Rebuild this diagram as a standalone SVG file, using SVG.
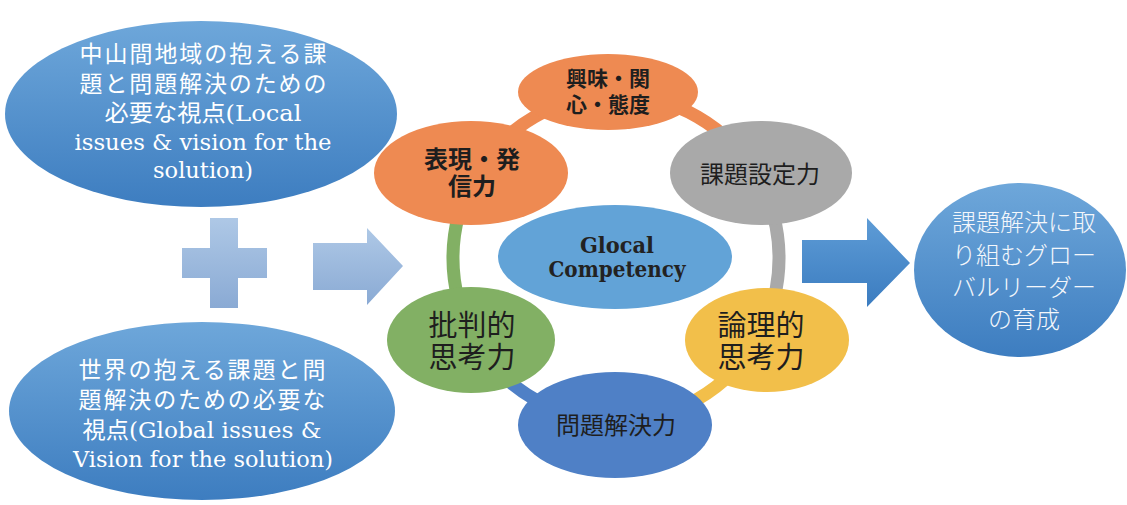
<svg xmlns="http://www.w3.org/2000/svg" width="1127" height="505" viewBox="0 0 1127 505">
<defs>
<linearGradient id="gBlue" x1="0" y1="0" x2="0" y2="1">
<stop offset="0" stop-color="#6ea7da"/>
<stop offset="1" stop-color="#3d7dc0"/>
</linearGradient>
<linearGradient id="gLight" x1="0" y1="0" x2="0" y2="1">
<stop offset="0" stop-color="#aec8e6"/>
<stop offset="1" stop-color="#8aaad4"/>
</linearGradient>
<linearGradient id="gArrow" x1="0" y1="0" x2="0" y2="1">
<stop offset="0" stop-color="#5e9cd6"/>
<stop offset="1" stop-color="#3b7cc0"/>
</linearGradient>
<style>
.wt{font-family:"DejaVu Serif","Noto Sans CJK JP",serif;font-size:23px;fill:#ffffff;text-anchor:middle}
.rt{font-family:"Noto Sans CJK JP",sans-serif;font-size:24px;font-weight:300;fill:#f4f7fb;text-anchor:middle}
.nt{font-family:"Noto Sans CJK JP",sans-serif;fill:#1e1e1e;text-anchor:middle}
.gt{font-family:"DejaVu Serif",serif;font-size:23px;font-weight:bold;fill:#222;text-anchor:middle}
.ring{fill:none;stroke-width:13}
</style>
</defs>

<g id="local-issues">
<ellipse cx="201" cy="114" rx="196" ry="93" fill="url(#gBlue)"/>
<text class="wt" x="203" y="62" textLength="247" lengthAdjust="spacing">中山間地域の抱える課</text>
<text class="wt" x="203" y="92" textLength="247" lengthAdjust="spacing">題と問題解決のための</text>
<text class="wt" x="203" y="121" textLength="197" lengthAdjust="spacingAndGlyphs">必要な視点(Local</text>
<text class="wt" x="203" y="150" textLength="257" lengthAdjust="spacingAndGlyphs">issues &amp; vision for the</text>
<text class="wt" x="203" y="178" textLength="100" lengthAdjust="spacingAndGlyphs">solution)</text>
</g>

<g id="global-issues">
<ellipse cx="202" cy="411" rx="193" ry="89" fill="url(#gBlue)"/>
<text class="wt" x="202" y="378" textLength="247" lengthAdjust="spacing">世界の抱える課題と問</text>
<text class="wt" x="202" y="408" textLength="247" lengthAdjust="spacing">題解決のための必要な</text>
<text class="wt" x="202" y="438" textLength="239" lengthAdjust="spacingAndGlyphs">視点(Global issues &amp;</text>
<text class="wt" x="203" y="467" textLength="260" lengthAdjust="spacingAndGlyphs">Vision for the solution)</text>
</g>

<g id="plus">
<path d="M210,218 H238 V248 H267 V278 H238 V308 H210 V278 H182 V248 H210 Z" fill="url(#gLight)"/>
</g>

<g id="arrow-in">
<path d="M313,243 H367 V228 L403,266 L367,305 V290 H313 Z" fill="url(#gLight)"/>
</g>

<g id="connectors">
<path class="ring" stroke="#ee8a52" d="M616,95 A163,163 0 0 1 757.2,176.5"/>
<path class="ring" stroke="#a9a9a9" d="M757.2,176.5 A163,163 0 0 1 757.2,339.5"/>
<path class="ring" stroke="#f2bf4a" d="M757.2,339.5 A163,163 0 0 1 616,421"/>
<path class="ring" stroke="#4f80c6" d="M616,421 A163,163 0 0 1 474.8,339.5"/>
<path class="ring" stroke="#82b064" d="M474.8,339.5 A163,163 0 0 1 474.8,176.5"/>
<path class="ring" stroke="#ee8a52" d="M474.8,176.5 A163,163 0 0 1 616,95"/>
</g>

<g id="interest">
<ellipse cx="608" cy="92" rx="90" ry="38" fill="#ee8a52"/>
<text class="nt" x="608" y="86" font-size="21" font-weight="bold">興味・関</text>
<text class="nt" x="608" y="112" font-size="21" font-weight="bold">心・態度</text>
</g>

<g id="expression">
<ellipse cx="471" cy="173" rx="97" ry="52" fill="#ee8a52"/>
<text class="nt" x="472" y="168" font-size="24" font-weight="bold">表現・発</text>
<text class="nt" x="472" y="195" font-size="24" font-weight="bold">信力</text>
</g>

<g id="task-setting">
<ellipse cx="761" cy="173" rx="91" ry="52" fill="#a9a9a9"/>
<text class="nt" x="760" y="183" font-size="24">課題設定力</text>
</g>

<g id="glocal">
<ellipse cx="615" cy="257" rx="117" ry="52" fill="#62a3d7"/>
<text class="gt" x="617" y="253" textLength="74" lengthAdjust="spacingAndGlyphs">Glocal</text>
<text class="gt" x="617" y="277" textLength="137" lengthAdjust="spacingAndGlyphs">Competency</text>
</g>

<g id="critical">
<ellipse cx="471" cy="340" rx="84" ry="53" fill="#82b064"/>
<text class="nt" x="472" y="336" font-size="29">批判的</text>
<text class="nt" x="472" y="368" font-size="29">思考力</text>
</g>

<g id="logical">
<ellipse cx="767" cy="340" rx="82" ry="52" fill="#f2bf4a"/>
<text class="nt" x="761" y="336" font-size="29">論理的</text>
<text class="nt" x="761" y="368" font-size="29">思考力</text>
</g>

<g id="problem-solving">
<ellipse cx="615" cy="425" rx="97" ry="53" fill="#4f80c6"/>
<text class="nt" x="616" y="434" font-size="24">問題解決力</text>
</g>

<g id="arrow-out">
<path d="M802,240 H867 V218 L910,263 L867,307 V283 H802 Z" fill="url(#gArrow)"/>
</g>

<g id="global-leader">
<ellipse cx="1020" cy="270" rx="106" ry="87" fill="url(#gBlue)"/>
<text class="rt" x="1024" y="231">課題解決に取</text>
<text class="rt" x="1024" y="264">り組むグロー</text>
<text class="rt" x="1024" y="296">バルリーダー</text>
<text class="rt" x="1024" y="328">の育成</text>
</g>
</svg>
